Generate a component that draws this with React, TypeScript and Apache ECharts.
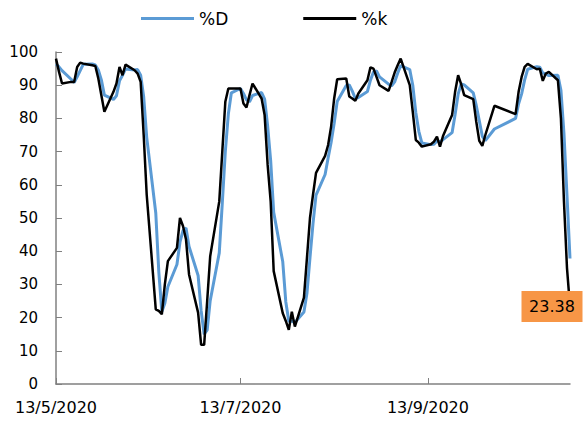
import React, { useEffect, useRef } from "react";
import * as echarts from "echarts";

const dates = [
  "2020-05-13", "2020-05-14", "2020-05-15", "2020-05-18", "2020-05-19", "2020-05-20", "2020-05-21", "2020-05-22",
  "2020-05-25", "2020-05-26", "2020-05-27", "2020-05-28", "2020-05-29",
  "2020-06-01", "2020-06-02", "2020-06-03", "2020-06-04", "2020-06-05",
  "2020-06-08", "2020-06-09", "2020-06-10", "2020-06-11", "2020-06-12",
  "2020-06-15", "2020-06-16", "2020-06-17", "2020-06-18", "2020-06-19",
  "2020-06-22", "2020-06-23", "2020-06-24", "2020-06-25", "2020-06-26",
  "2020-06-29", "2020-06-30", "2020-07-01", "2020-07-02", "2020-07-03",
  "2020-07-06", "2020-07-07", "2020-07-08", "2020-07-09", "2020-07-10",
  "2020-07-13", "2020-07-14", "2020-07-15", "2020-07-16", "2020-07-17",
  "2020-07-20", "2020-07-21", "2020-07-22", "2020-07-23", "2020-07-24",
  "2020-07-27", "2020-07-28", "2020-07-29", "2020-07-30", "2020-07-31",
  "2020-08-03", "2020-08-04", "2020-08-05", "2020-08-06", "2020-08-07",
  "2020-08-10", "2020-08-11", "2020-08-12", "2020-08-13", "2020-08-14",
  "2020-08-17", "2020-08-18", "2020-08-19", "2020-08-20", "2020-08-21",
  "2020-08-24", "2020-08-25", "2020-08-26", "2020-08-27", "2020-08-28",
  "2020-08-31", "2020-09-01", "2020-09-02", "2020-09-03", "2020-09-04",
  "2020-09-07", "2020-09-08", "2020-09-09", "2020-09-10", "2020-09-11",
  "2020-09-14", "2020-09-15", "2020-09-16", "2020-09-17", "2020-09-18",
  "2020-09-21", "2020-09-22", "2020-09-23", "2020-09-24", "2020-09-25",
  "2020-09-28", "2020-09-29", "2020-09-30", "2020-10-01", "2020-10-02",
  "2020-10-05", "2020-10-12", "2020-10-13", "2020-10-14", "2020-10-15", "2020-10-16",
  "2020-10-19", "2020-10-20", "2020-10-21", "2020-10-22", "2020-10-23",
  "2020-10-26", "2020-10-27", "2020-10-28", "2020-10-29", "2020-10-30",
];

const kValues = [
  98, 94, 90.5, 91, 91, 95.5, 96.8, 96.5,
  96, 95.8, 92, 87, 82,
  88, 90.5, 95.5, 93, 96.2,
  94.5, 93.5, 91, 75, 57,
  22.5, 22, 21, 30, 37,
  41, 50, 47.6, 43.5, 33,
  21.5, 11.8, 11.8, 25, 38.5,
  55, 70, 85, 89, 89,
  89, 84.5, 83.3, 87, 90.5,
  86, 81, 66, 55, 34,
  21.3, 19, 16.3, 21.8, 17.3,
  26, 38, 50, 57, 63.6,
  68.7, 72, 77.6, 86, 91.8,
  92, 86.6, 86, 85.3, 87.5,
  91.5, 95.4, 95, 92.5, 90,
  88.3, 91, 93.8, 96, 98,
  90, 82, 73.5, 72.7, 71.5,
  72.2, 73, 74.5, 71.5, 74.7,
  81, 88, 93, 90.3, 87,
  85.8, 79, 73.2, 71.7, 75,
  83.8, 81.3, 88, 92.5, 95.5, 96.4,
  94.8, 95, 91.3, 93.5, 94,
  91.5, 80, 55, 35, 23.38,
];

const dValues = [
  96.4, 95.5, 94.4, 91.8, 90.8, 92.5, 94.4, 96.3,
  96.4, 96.1, 94.6, 91.6, 87,
  85.7, 86.8, 91.3, 93, 94.9,
  94.6, 94.7, 93, 86.5, 74.3,
  51.5, 33.8, 21.8, 24.3, 29.3,
  36, 42.7, 46.2, 47, 41.4,
  32.7, 22.1, 15, 16.2, 25.1,
  39.5, 54.5, 70, 81.3, 87.7,
  89, 87.5, 85.6, 85, 86.9,
  87.8, 85.8, 77.7, 67.3, 51.7,
  36.8, 24.8, 18.9, 19, 18.5,
  21.7, 27.3, 38, 48.3, 56.9,
  63.1, 68.1, 72.8, 78.5, 85.1,
  89.9, 90.1, 88.2, 86, 86.3,
  88.1, 91.5, 94, 94.3, 92.5,
  90.3, 89.8, 91, 93.6, 95.9,
  94.7, 90, 81.8, 76.1, 72.6,
  72.1, 72.2, 73.2, 73, 73.6,
  75.7, 81.2, 87.3, 90.4, 90.1,
  87.7, 83.9, 79.3, 74.6, 73.3,
  76.8, 80, 84.4, 87.4, 91.6, 94.8,
  95.6, 95.4, 93.7, 93.3, 92.9,
  93, 88.5, 75.5, 56.8, 37.8,
];

const xTickDates = ["2020-05-13", "2020-07-13", "2020-09-13"];
const xMin = "2020-05-13";
const xMax = "2020-10-30";
const seriesNames = ["%D", "%k"];

const toTs = (s: string) => {
  const [y, m, d] = s.split("-").map(Number);
  return Date.UTC(y, m - 1, d);
};

const fmtDate = (v: number) => {
  const dt = new Date(v);
  return `${dt.getUTCDate()}/${dt.getUTCMonth() + 1}/${dt.getUTCFullYear()}`;
};

const FONT = "DejaVu Sans";

export default function App() {
  const ref = useRef<HTMLDivElement>(null);

  useEffect(() => {
    document.body.style.margin = "0";
    const chart = echarts.init(ref.current!, null, { renderer: "svg" });
    const ts = dates.map(toTs);
    const kData = ts.map((t, i) => [t, kValues[i]]);
    const dData = ts.map((t, i) => [t, dValues[i]]);
    const lastIdx = ts.length - 1;
    const tickTs = xTickDates.map(toTs);

    chart.setOption({
      animation: false,
      backgroundColor: "#ffffff",
      textStyle: { fontFamily: FONT },
      legend: {
        data: seriesNames,
        left: 141,
        top: 10,
        padding: 0,
        icon: "rect",
        itemWidth: 53,
        itemHeight: 3,
        itemGap: 75,
        textStyle: { fontFamily: FONT, fontSize: 17, color: "#000" },
      },
      grid: { left: 56, right: 13, top: 52, bottom: 37, containLabel: false },
      xAxis: {
        type: "value",
        min: toTs(xMin),
        max: toTs(xMax),
        axisLine: { show: true, lineStyle: { color: "#808080", width: 1.5 } },
        axisTick: {
          show: true,
          inside: true,
          length: 6,
          customValues: tickTs,
          lineStyle: { color: "#808080", width: 1 },
        },
        axisLabel: {
          customValues: tickTs,
          formatter: (v: number) => fmtDate(v),
          fontFamily: FONT,
          fontSize: 16,
          color: "#000",
          margin: 15,
        },
        splitLine: { show: false },
      },
      yAxis: {
        type: "value",
        min: 0,
        max: 100,
        interval: 10,
        axisLine: { show: true, lineStyle: { color: "#808080", width: 1.5 } },
        axisTick: { show: true, inside: true, length: 6, lineStyle: { color: "#808080", width: 1 } },
        axisLabel: { fontFamily: FONT, fontSize: 15, color: "#000", margin: 18 },
        splitLine: { show: false },
      },
      series: [
        {
          name: seriesNames[0],
          type: "line",
          data: dData,
          symbol: "none",
          lineStyle: { color: "#5B9BD5", width: 3 },
          itemStyle: { color: "#5B9BD5" },
        },
        {
          name: seriesNames[1],
          type: "line",
          data: kData,
          symbol: "none",
          lineStyle: { color: "#000000", width: 2.5 },
          itemStyle: { color: "#000000" },
          markPoint: {
            data: [
              {
                coord: [ts[lastIdx], kValues[lastIdx]],
                symbol: "rect",
                symbolSize: [61, 31],
                symbolOffset: [-18, 0],
                itemStyle: { color: "#F79646" },
                label: {
                  show: true,
                  position: "inside",
                  formatter: kValues[lastIdx].toFixed(2),
                  fontFamily: FONT,
                  fontSize: 16,
                  color: "#000",
                },
              },
            ],
          },
        },
      ],
    });
    return () => chart.dispose();
  }, []);

  return (
    <div
      ref={ref}
      style={{ position: "absolute", left: 0, top: 0, width: 583, height: 421 }}
    />
  );
}
